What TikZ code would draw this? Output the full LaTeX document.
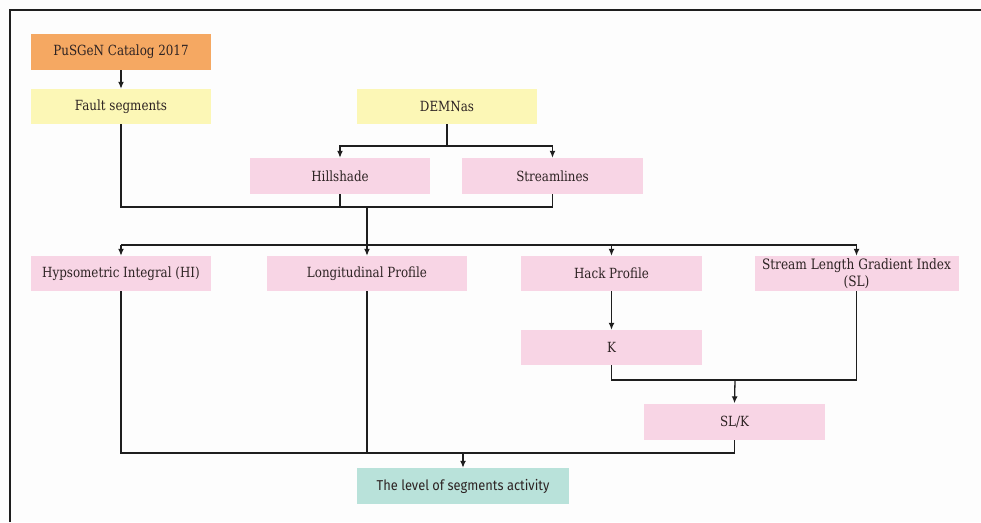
\documentclass[tikz,border=0pt]{standalone}
\usepackage{fontspec}
\setmainfont[FakeStretch=0.85]{DejaVu Serif}
\newfontfamily\condfont[FakeStretch=0.9]{Fira Sans}
\usetikzlibrary{arrows.meta}
\definecolor{orangebox}{RGB}{245,168,98}
\definecolor{yellowbox}{RGB}{252,247,182}
\definecolor{pinkbox}{RGB}{248,213,229}
\definecolor{tealbox}{RGB}{185,226,218}
\definecolor{txt}{RGB}{45,35,35}
\definecolor{lin}{RGB}{30,30,30}
\definecolor{bg}{RGB}{253,253,253}
\tikzset{
  box/.style={fill=#1, draw=none, minimum height=35pt, minimum width=180pt, inner sep=0pt,
    text=txt, font=\fontsize{14}{16}\selectfont, align=center},
  conn/.style={draw=lin, line width=1.3pt},
  arr/.style={conn, -{Latex[length=7pt,width=6pt]}},
}
\begin{document}
\begin{tikzpicture}[x=1pt,y=-1pt]
\fill[bg] (0,0) rectangle (981,522);
\useasboundingbox (0,0) rectangle (981,522);
\draw[lin, line width=2pt] (10,522) -- (10,10) -- (981,10);

\node[box=orangebox, minimum height=36pt] (pus) at (121,52) {PuSGeN Catalog 2017};
\node[box=yellowbox] (fault) at (121,106.5) {Fault segments};
\node[box=yellowbox] (dem) at (447,106.5) {DEMNas};
\node[box=pinkbox, minimum height=36pt] (hill) at (340,176) {Hillshade};
\node[box=pinkbox, minimum height=36pt, minimum width=181pt] (strm) at (552.5,176) {Streamlines};
\node[box=pinkbox] (hi) at (121,273.5) {Hypsometric Integral (HI)};
\node[box=pinkbox, minimum width=200pt] (long) at (367,273.5) {Longitudinal Profile};
\node[box=pinkbox, minimum width=181pt] (hack) at (611.5,273.5) {Hack Profile};
\node[box=pinkbox, minimum width=204pt, font=\fontsize{14.3}{17}\selectfont] (sl) at (856.5,273.5) {Stream Length Gradient Index\\(SL)};
\node[box=pinkbox, minimum width=181pt] (k) at (611.5,347.5) {K};
\node[box=pinkbox, minimum width=181pt, minimum height=36pt] (slk) at (734.5,421.5) {SL/K};
\node[box=tealbox, minimum width=212pt, minimum height=36pt, font=\condfont\fontsize{14.3}{16}\selectfont] (act) at (463,486) {The level of segments activity};

% connectors
\draw[arr] (pus) -- (fault);
\coordinate (j0) at (447,146);
\draw[conn] (dem.south) -- (j0);
\draw[arr] (j0) -| (hill.north);
\draw[arr] (j0) -| (strm.north);
\coordinate (j1) at (367,207);
\draw[conn] (fault.south) |- (strm.south |- j1) -- (strm.south);
\draw[conn] (hill.south) -- (hill.south |- j1);
\coordinate (j2) at (367,245);
\draw[arr] (j1) -- (long.north);
\draw[conn] (hi.north |- j2) -- (sl.north |- j2);
\draw[arr] (hi.north |- j2) -- (hi.north);
\draw[arr] (hack.north |- j2) -- (hack.north);
\draw[arr] (sl.north |- j2) -- (sl.north);
\draw[arr] (hack) -- (k);
\coordinate (j3) at (735,380);
\draw[conn] (k.south) |- (sl.south |- j3) -- (sl.south);
\draw[arr] (j3) -- (slk.north);
\coordinate (j4) at (463,453);
\draw[conn] (hi.south) |- (slk.south |- j4) -- (slk.south);
\draw[conn] (long.south) -- (long.south |- j4);
\draw[arr] (j4) -- (act.north);
\end{tikzpicture}
\end{document}
